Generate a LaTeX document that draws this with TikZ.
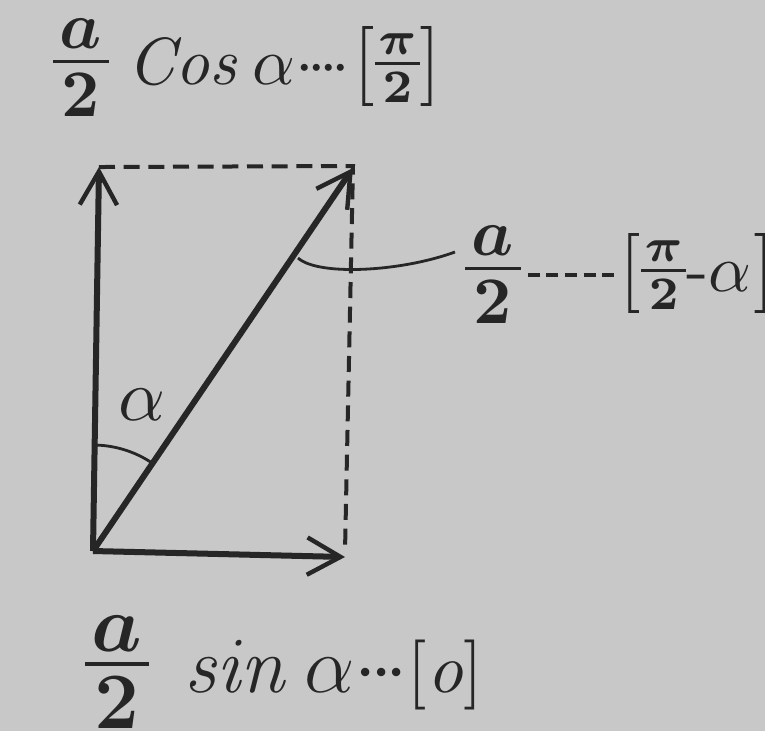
\documentclass[tikz,border=0pt]{standalone}
\usepackage{amsmath}
\usetikzlibrary{arrows.meta}
\definecolor{paper}{RGB}{200,200,200}
\definecolor{ink}{RGB}{38,38,38}
\newcommand{\fr}[2]{\mathord{\vcenter{\offinterlineskip\halign{\hfil\kern1pt$##$\kern1pt\hfil\cr #1\cr\noalign{\kern1.6pt\hrule height0.55pt\kern1.6pt}#2\cr}}}}
\newcommand{\sfr}[2]{\mathord{\vcenter{\offinterlineskip\halign{\hfil\kern0.5pt$\scriptstyle##$\kern0.5pt\hfil\cr #1\cr\noalign{\kern1.2pt\hrule height0.4pt\kern1.2pt}#2\cr}}}}
\newcommand{\dsh}{\rule[2.25pt]{1.8pt}{0.5pt}}
\newcommand{\dt}{{\cdot}}
\newcommand{\lbr}{\mathopen{\raisebox{-0.3pt}{\fontsize{12}{12}\selectfont[}}}
\newcommand{\rbr}{\mathclose{\raisebox{-0.3pt}{\fontsize{12}{12}\selectfont]}}}
\begin{document}
\begin{tikzpicture}[x=0.15pt,y=-0.15pt,
 vec/.style={ink, line width=0.9pt, -{Straight Barb[length=5pt,width=5.6pt,line width=0.66pt]}},
 guide/.style={ink, line width=0.6pt, dash pattern=on 2.4pt off 1.3pt},
 thinline/.style={ink, line width=0.42pt},
 lbl/.style={text=ink, inner sep=0pt, anchor=west, font=\fontsize{10}{12}\selectfont},
 lblb/.style={text=ink, inner sep=0pt, anchor=west, font=\fontsize{12}{14}\selectfont}]
\fill[paper] (0,0) rectangle (765,731);
\clip (0,0) rectangle (765,731);
\coordinate (O) at (93,551);
\coordinate (V) at (99,167);
\coordinate (H) at (345,557);
\coordinate (D) at (353,168);
\coordinate (TR) at (353,166);
\coordinate (BR) at (345,552);
\draw[guide] (V) -- (TR) -- (BR);
\draw[vec] (O) -- (V);
\draw[vec] (O) -- (H);
\draw[vec] (O) -- (D);
\draw[thinline] (O) ++(-90:106) arc[start angle=-90, end angle=-56, radius=106];
\node[text=ink, inner sep=0pt, font=\fontsize{10.5}{12}\selectfont] (al) at (142,405) {$\alpha$};
\coordinate (L1) at (298,258);
\coordinate (L2) at (455,252);
\draw[thinline] (L1) .. controls (318,276) and (400,272) .. (L2);
\node[lbl] (top) at (52,68) {$\fr{\boldsymbol{a}}{\mathbf{2}}\;\mathit{Cos}\,\alpha\dt\kern-1pt\dt\kern-1pt\dt\kern-1pt\dt\kern0.5pt\lbr\sfr{\boldsymbol{\pi}}{\mathbf{2}}\rbr$};
\node[lbl] (right) at (464,275) {$\fr{\boldsymbol{a}}{\mathbf{2}}\kern1pt\dsh\kern1pt\dsh\kern1pt\dsh\kern1pt\dsh\kern1pt\dsh\kern0.8pt\lbr\sfr{\boldsymbol{\pi}}{\mathbf{2}}\text{-}\alpha\kern0.3pt\rbr$};
\node[lblb] (bot) at (84,672) {$\fr{\boldsymbol{a}}{\mathbf{2}}\;\,\mathit{sin}\,\alpha\dt\kern-1pt\dt\kern-1pt\dt\text{\fontsize{10.5}{12}\selectfont[\textit{o}]}$};
\end{tikzpicture}
\end{document}
